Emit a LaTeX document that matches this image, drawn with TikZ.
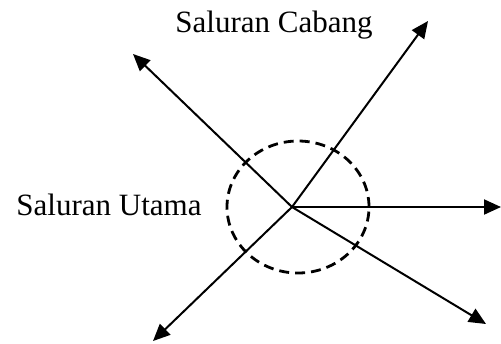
\documentclass[tikz,border=0pt]{standalone}
\usepackage{fontspec}
\setmainfont{Liberation Serif}
\usetikzlibrary{arrows.meta,positioning}
\begin{document}
\begin{tikzpicture}[x=0.5pt,y=-0.5pt,line width=1pt,
	arr/.style={-{Triangle[length=8.5pt,width=7.5pt]}},
	lbl/.style={font=\fontsize{15.5}{18}\selectfont,inner sep=0pt}]
	\useasboundingbox (0,0) rectangle (501,343);
	\coordinate (O) at (292,207);
	\coordinate (C) at (298,207);
	\coordinate (UL) at (133,54);
	\coordinate (UR) at (428,21);
	\coordinate (R) at (501,207);
	\coordinate (LR) at (486,324);
	\coordinate (LL) at (153,341);
	\draw[arr] (O)--(UL);
	\draw[arr] (O)--(UR);
	\draw[arr] (O)--(R);
	\draw[arr] (O)--(LR);
	\draw[arr] (O)--(LL);
	\draw[dashed,dash pattern=on 5pt off 3pt,line width=1.4pt] (C) ellipse [x radius=35.5pt,y radius=33pt];
	\node[lbl] (cabang) at (274,25) {Saluran Cabang};
	\node[lbl] (utama) at (109,205) {Saluran Utama};
\end{tikzpicture}
\end{document}
